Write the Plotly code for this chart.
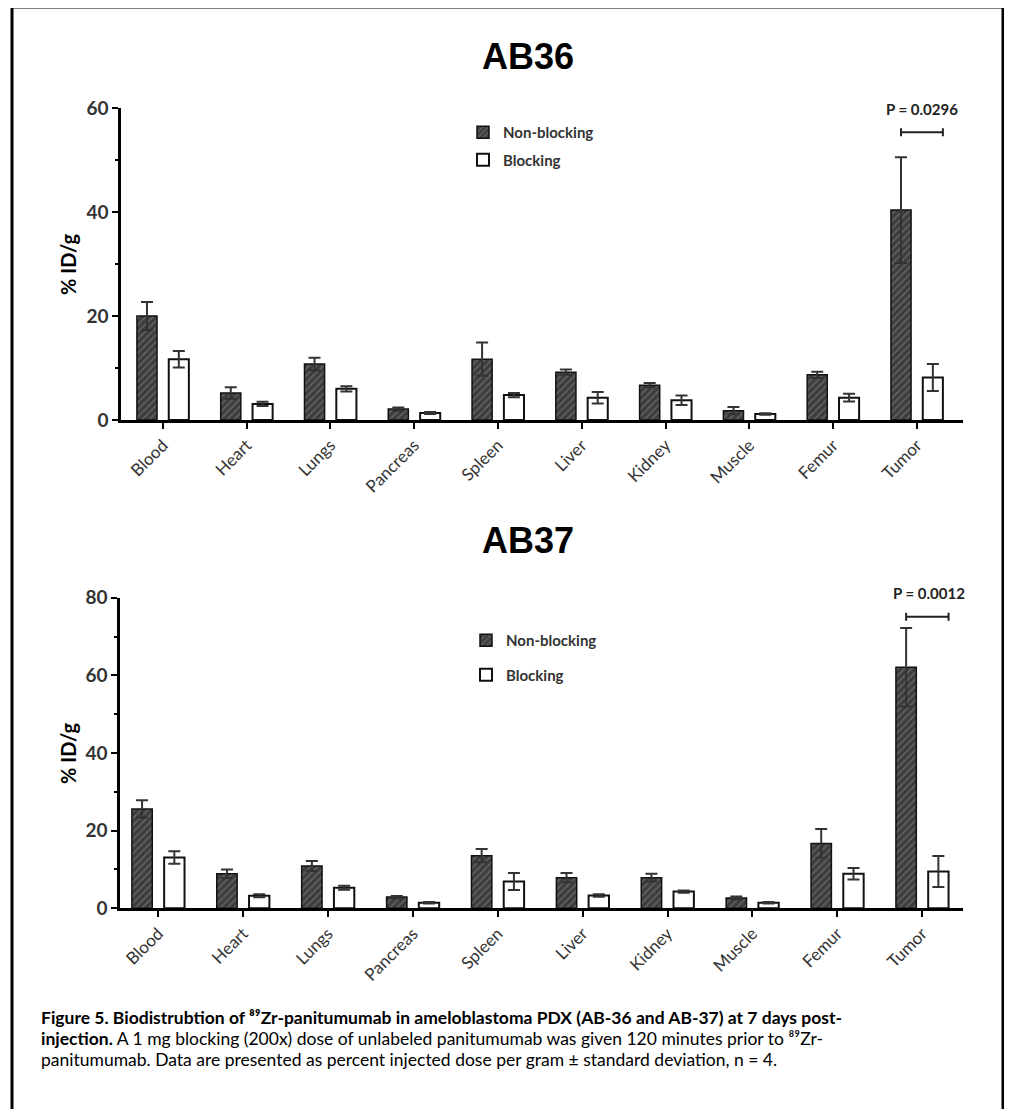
import plotly.graph_objects as go

# Page body has an 8px margin; the figure is sized so that the page fits the window exactly.
OFF = 8
W, H = 1012 - 2 * OFF, 1117 - 2 * OFF

categories = ["Blood", "Heart", "Lungs", "Pancreas", "Spleen", "Liver", "Kidney", "Muscle", "Femur", "Tumor"]

ab36_nonblocking = [20.0, 5.2, 10.8, 2.1, 11.7, 9.2, 6.7, 1.8, 8.7, 40.4]
ab36_nonblocking_sd = [2.7, 1.1, 1.2, 0.3, 3.2, 0.5, 0.4, 0.7, 0.6, 10.2]
ab36_blocking = [11.7, 3.1, 6.0, 1.35, 4.8, 4.3, 3.8, 1.15, 4.3, 8.2]
ab36_blocking_sd = [1.6, 0.4, 0.5, 0.2, 0.4, 1.1, 0.9, 0.15, 0.75, 2.6]

ab37_nonblocking = [25.6, 8.9, 10.9, 2.9, 13.55, 7.9, 7.9, 2.65, 16.7, 62.1]
ab37_nonblocking_sd = [2.2, 1.1, 1.3, 0.3, 1.7, 1.2, 1.0, 0.4, 3.7, 10.1]
ab37_blocking = [13.1, 3.25, 5.3, 1.45, 6.9, 3.3, 4.3, 1.45, 8.9, 9.5]
ab37_blocking_sd = [1.6, 0.4, 0.5, 0.2, 2.2, 0.3, 0.3, 0.2, 1.5, 4.0]

series_names = ["Non-blocking", "Blocking"]
p_values = ["P = 0.0296", "P = 0.0012"]
panel_titles = ["AB36", "AB37"]
y_ranges = [[0, 60], [0, 80]]


def px(x):
    return (x - OFF) / W


def py(y):
    return 1 - (y - OFF) / H


FONT = "Lato"
GRAY = "#333333"

fig = go.Figure()

panels = [
    dict(nb=ab36_nonblocking, nbsd=ab36_nonblocking_sd, b=ab36_blocking, bsd=ab36_blocking_sd,
         xa="x", ya="y", legend="legend"),
    dict(nb=ab37_nonblocking, nbsd=ab37_nonblocking_sd, b=ab37_blocking, bsd=ab37_blocking_sd,
         xa="x2", ya="y2", legend="legend2"),
]

for i, p in enumerate(panels):
    fig.add_trace(go.Bar(
        x=categories, y=p["nb"], name=series_names[0],
        xaxis=p["xa"], yaxis=p["ya"], legend=p["legend"], legendgroup=f"nb{i}",
        width=0.24, offset=-0.31,
        marker=dict(color="#3d3d3d",
                    line=dict(color="#111111", width=1.5),
                    pattern=dict(shape="/", bgcolor="#3d3d3d", fgcolor="#8a8a8a",
                                 size=5, solidity=0.3)),
        error_y=dict(type="data", array=p["nbsd"], visible=True,
                     color=GRAY, thickness=2, width=6),
    ))
    fig.add_trace(go.Bar(
        x=categories, y=p["b"], name=series_names[1],
        xaxis=p["xa"], yaxis=p["ya"], legend=p["legend"], legendgroup=f"b{i}",
        width=0.24, offset=0.07,
        marker=dict(color="white", line=dict(color="#111111", width=2)),
        error_y=dict(type="data", array=p["bsd"], visible=True,
                     color=GRAY, thickness=2, width=6),
    ))

common_x = dict(
    type="category", showline=True, linecolor="black", linewidth=2.5,
    ticks="outside", ticklen=6, tickwidth=2, tickcolor="black",
    tickangle=-45, tickfont=dict(family=FONT, size=17, color=GRAY),
    showgrid=False, zeroline=False, automargin=False, fixedrange=True,
)
common_y = dict(
    showline=True, linecolor="black", linewidth=2.5,
    ticks="outside", ticklen=6, tickwidth=2, tickcolor="black",
    tickfont=dict(family=FONT, size=19, color=GRAY, weight="bold"),
    showgrid=False, zeroline=False, automargin=False, dtick=20,
    minor=dict(dtick=10, ticks="outside", ticklen=3, tickwidth=2, tickcolor="black"),
)

fig.update_layout(
    width=W, height=H,
    margin=dict(l=0, r=0, t=0, b=0),
    paper_bgcolor="white", plot_bgcolor="white",
    barmode="overlay",
    showlegend=True,
    xaxis=dict(common_x, domain=[px(121), px(963)], range=[-0.50, 9.55], anchor="y"),
    yaxis=dict(common_y, domain=[py(420), py(108.3)], range=y_ranges[0], anchor="x"),
    xaxis2=dict(common_x, domain=[px(120), px(963)], range=[-0.45, 9.48], anchor="y2"),
    yaxis2=dict(common_y, domain=[py(908.3), py(597.7)], range=y_ranges[1], anchor="x2"),
    legend=dict(x=px(463), y=py(116), xanchor="left", yanchor="top",
                font=dict(family=FONT, size=15, color=GRAY, weight="bold"),
                tracegroupgap=5, bgcolor="rgba(0,0,0,0)"),
    legend2=dict(x=px(466), y=py(624), xanchor="left", yanchor="top",
                 font=dict(family=FONT, size=15, color=GRAY, weight="bold"),
                 tracegroupgap=12, bgcolor="rgba(0,0,0,0)"),
)

# Panel titles
for t, yc in zip(panel_titles, [57, 540]):
    fig.add_annotation(text=f"<b>{t}</b>", x=px(528), y=py(yc), xref="paper", yref="paper",
                       xanchor="center", yanchor="middle", showarrow=False,
                       font=dict(family="Liberation Sans", size=36, color="black"))

# Y axis titles
for yc in [264, 753]:
    fig.add_annotation(text="<b>% ID/g</b>", x=px(68), y=py(yc), xref="paper", yref="paper",
                       xanchor="center", yanchor="middle", showarrow=False, textangle=-90,
                       font=dict(family=FONT, size=20, color="black"))

# Significance brackets
brackets = [("x", "y", 55.4, 0.77, 922, 109), ("x2", "y2", 75.1, 1.03, 929, 593)]
for (xa, ya, yb, cap, tx, ty), ptxt in zip(brackets, p_values):
    x0, x1 = 9 - 0.19, 9 + 0.31
    fig.add_shape(type="line", xref=xa, yref=ya, x0=x0, x1=x1, y0=yb, y1=yb,
                  line=dict(color="#222222", width=2))
    for xe in (x0, x1):
        fig.add_shape(type="line", xref=xa, yref=ya, x0=xe, x1=xe, y0=yb - cap, y1=yb + cap,
                      line=dict(color="#222222", width=2))
    fig.add_annotation(text=f"<b>{ptxt}</b>", x=px(tx), y=py(ty), xref="paper", yref="paper",
                       xanchor="center", yanchor="middle", showarrow=False,
                       font=dict(family=FONT, size=15, color="#222222"))

# Caption
caption_lines = [
    "<b>Figure 5. Biodistrubtion of ⁸⁹Zr-panitumumab in ameloblastoma PDX (AB-36 and AB-37) at 7 days post-</b>",
    "<b>injection.</b> A 1 mg blocking (200x) dose of unlabeled panitumumab was given 120 minutes prior to ⁸⁹Zr-",
    "panitumumab. Data are presented as percent injected dose per gram ± standard deviation, n = 4.",
]
for line, yc in zip(caption_lines, [1017, 1038, 1059]):
    fig.add_annotation(text=line, x=px(39), y=py(yc), xref="paper", yref="paper",
                       xanchor="left", yanchor="middle", showarrow=False,
                       font=dict(family=FONT, size=17.5, color="black"))

# Outer frame
fig.add_shape(type="rect", xref="paper", yref="paper", x0=px(12), x1=px(1003), y0=-0.05, y1=py(7),
              line=dict(color="black", width=3), fillcolor="rgba(0,0,0,0)", layer="above")

fig.write_html("out.html")
